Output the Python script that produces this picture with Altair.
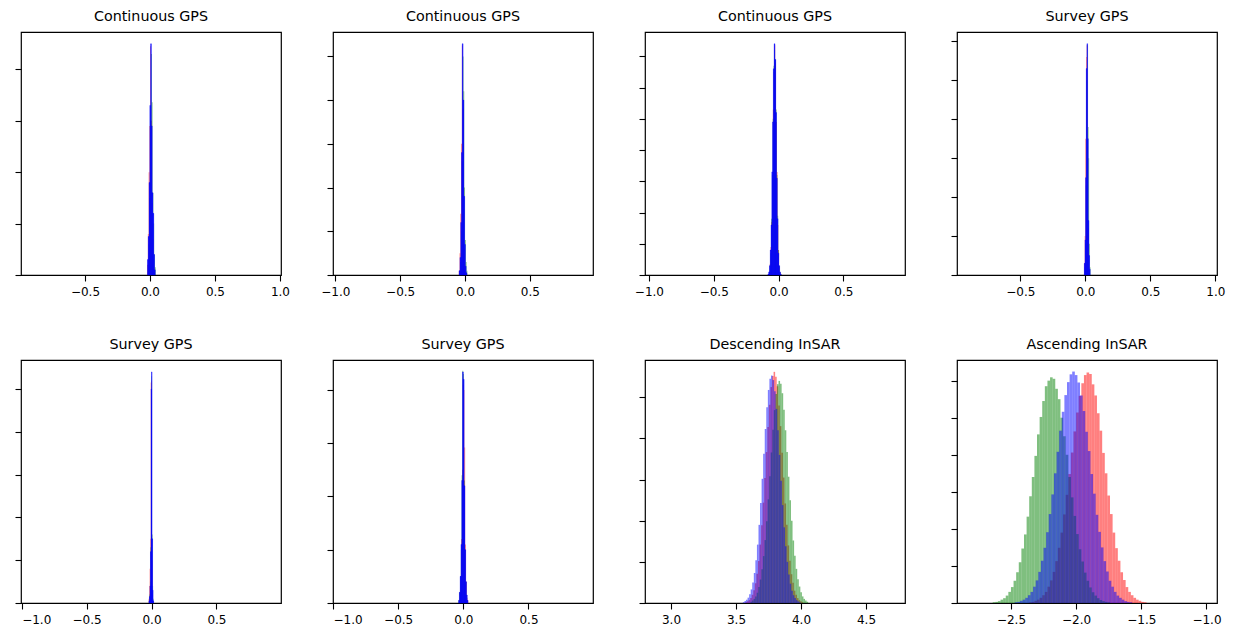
import altair as alt
import pandas as pd

# ---------------- panel descriptions ----------------
TITLES = ["Continuous GPS", "Continuous GPS", "Continuous GPS", "Survey GPS",
          "Survey GPS", "Survey GPS", "Descending InSAR", "Ascending InSAR"]

X_DOMAINS = [[-0.992, 1.008], [-1.018, 0.987], [-1.03, 0.975], [-0.987, 1.013],
             [-1.005, 0.997], [-1.0, 0.995], [2.8, 4.8], [-2.914, -0.919]]

X_TICKS = [[-0.5, 0.0, 0.5, 1.0], [-1.0, -0.5, 0.0, 0.5], [-1.0, -0.5, 0.0, 0.5],
           [-0.5, 0.0, 0.5, 1.0], [-1.0, -0.5, 0.0, 0.5], [-1.0, -0.5, 0.0, 0.5],
           [3.0, 3.5, 4.0, 4.5], [-2.5, -2.0, -1.5, -1.0]]

Y_TICK_COUNTS = [5, 6, 8, 7, 6, 5, 6, 7]
Y_MAX = [4.729, 5.558, 7.778, 6.24, 5.678, 4.563, 5.908, 6.557]

BIN_WIDTHS = [0.006, 0.006, 0.006, 0.005, 0.004, 0.006, 0.012, 0.02]

# ---------------- histogram values (left edge of first bin + bar heights) ----------------
# Panel 1 – Continuous GPS
P1_RED_START, P1_GREEN_START, P1_BLUE_START = -0.022, -0.016, -0.019
P1_RED = [0.2, 0.8, 2.0, 2.9, 4.45, 3.0, 1.4, 0.7, 0.3, 0.1]
P1_GREEN = [0.2, 0.6, 1.5, 3.0, 4.3, 3.36, 1.6, 1.0, 0.4, 0.15]
P1_BLUE = [0.3, 0.75, 1.8, 3.3, 4.5, 2.9, 1.6, 1.2, 0.4, 0.1]

# Panel 2 – Continuous GPS
P2_RED_START, P2_GREEN_START, P2_BLUE_START = -0.048, -0.042, -0.045
P2_RED = [0.1, 0.5, 1.4, 3.0, 5.25, 3.8, 1.5, 0.6, 0.2, 0.05]
P2_GREEN = [0.1, 0.3, 1.0, 2.6, 5.0, 4.2, 2.0, 0.8, 0.3, 0.1]
P2_BLUE = [0.1, 0.4, 1.2, 2.8, 5.29, 4.0, 1.8, 0.7, 0.2, 0.05]

# Panel 3 – Continuous GPS
P3_RED_START, P3_GREEN_START, P3_BLUE_START = -0.080, -0.081, -0.082
P3_RED = [0.03, 0.1, 0.35, 0.9, 1.7, 3.1, 5.3, 6.5, 7.35, 6.8, 4.9, 3.3, 1.6, 0.8, 0.25, 0.08, 0.02]
P3_GREEN = [0.02, 0.1, 0.3, 0.7, 1.8, 3.2, 5.0, 6.7, 7.2, 6.9, 5.3, 3.2, 1.9, 0.8, 0.3, 0.1, 0.03]
P3_BLUE = [0.03, 0.1, 0.3, 0.8, 1.6, 3.3, 4.9, 6.6, 7.40, 6.9, 5.2, 3.1, 1.8, 0.7, 0.3, 0.1, 0.03]

# Panel 4 – Survey GPS
P4_RED_START, P4_GREEN_START, P4_BLUE_START = -0.0095, -0.0055, -0.0075
P4_RED = [0.3, 1.0, 3.5, 5.6, 5.9, 3.3, 1.2, 0.4, 0.1]
P4_GREEN = [0.2, 0.8, 2.3, 5.0, 5.9, 3.8, 3.0, 0.8, 0.2]
P4_BLUE = [0.3, 0.9, 2.5, 5.3, 5.94, 3.5, 1.4, 0.5, 0.15]

# Panel 5 – Survey GPS
P5_RED_START, P5_GREEN_START, P5_BLUE_START = -0.022, -0.020, -0.020
P5_RED = [0.1, 0.4, 0.8, 1.5, 5.15, 5.2, 1.0, 0.2, 0.05]
P5_GREEN = [0.05, 0.2, 0.5, 1.3, 4.8, 5.3, 1.6, 0.4, 0.1]
P5_BLUE = [0.05, 0.15, 0.4, 1.2, 5.0, 5.40, 1.5, 0.3, 0.05]

# Panel 6 – Survey GPS
P6_RED_START, P6_GREEN_START, P6_BLUE_START = -0.034, -0.037, -0.036
P6_RED = [0.05, 0.2, 0.5, 1.2, 2.5, 4.1, 4.0, 2.92, 1.1, 0.4, 0.1, 0.05]
P6_GREEN = [0.05, 0.2, 0.5, 1.0, 2.4, 4.36, 4.3, 2.3, 1.0, 0.4, 0.15, 0.05]
P6_BLUE = [0.05, 0.2, 0.5, 1.1, 2.3, 4.34, 4.2, 2.2, 1.0, 0.4, 0.15, 0.05]

# Panel 7 – Descending InSAR
P7_RED_START, P7_GREEN_START, P7_BLUE_START = 3.573, 3.611, 3.553
P7_RED = [0.02, 0.04, 0.07, 0.12, 0.2, 0.31, 0.48, 0.71, 1.02, 1.42, 1.89, 2.44, 3.04, 3.67,
          4.28, 4.82, 5.25, 5.52, 5.62, 5.5, 5.27, 4.8, 4.3, 3.65, 3.05, 2.42, 1.9, 1.4,
          1.03, 0.7, 0.49, 0.3, 0.2, 0.12, 0.07, 0.04, 0.02]
P7_GREEN = [0.03, 0.06, 0.1, 0.16, 0.25, 0.39, 0.57, 0.82, 1.14, 1.53, 1.99, 2.52, 3.08, 3.66,
            4.21, 4.69, 5.08, 5.32, 5.40, 5.33, 5.1, 4.7, 4.2, 3.67, 3.07, 2.5, 2.0, 1.52,
            1.15, 0.83, 0.58, 0.4, 0.26, 0.16, 0.1, 0.06, 0.03]
P7_BLUE = [0.02, 0.05, 0.08, 0.13, 0.21, 0.33, 0.5, 0.73, 1.04, 1.42, 1.9, 2.43, 3.02, 3.63,
           4.23, 4.76, 5.18, 5.45, 5.53, 5.42, 5.15, 4.72, 4.2, 3.6, 2.97, 2.38, 1.84, 1.38,
           1.0, 0.69, 0.47, 0.3, 0.19, 0.12, 0.07, 0.04, 0.02]

# Panel 8 – Ascending InSAR
P8_RED_START, P8_GREEN_START, P8_BLUE_START = -2.36, -2.64, -2.47
P8_RED = [0.02, 0.03, 0.06, 0.09, 0.14, 0.21, 0.3, 0.44, 0.61, 0.84, 1.13, 1.49, 1.9, 2.39,
          2.92, 3.48, 4.06, 4.63, 5.14, 5.59, 5.93, 6.15, 6.22, 6.18, 5.9, 5.6, 5.12, 4.65,
          4.05, 3.5, 2.9, 2.4, 1.9, 1.48, 1.14, 0.83, 0.62, 0.43, 0.3, 0.21, 0.14, 0.09,
          0.06, 0.03, 0.02]
P8_GREEN = [0.02, 0.03, 0.05, 0.09, 0.13, 0.2, 0.3, 0.43, 0.6, 0.83, 1.1, 1.47, 1.85, 2.33,
            2.88, 3.4, 3.97, 4.55, 5.02, 5.45, 5.85, 6.0, 6.09, 6.05, 5.78, 5.5, 5.0, 4.5,
            4.0, 3.4, 2.85, 2.35, 1.86, 1.45, 1.12, 0.82, 0.6, 0.42, 0.29, 0.2, 0.13, 0.08,
            0.05, 0.03, 0.02]
P8_BLUE = [0.02, 0.03, 0.06, 0.09, 0.14, 0.21, 0.3, 0.44, 0.61, 0.84, 1.14, 1.49, 1.91, 2.4,
           2.93, 3.5, 4.08, 4.65, 5.16, 5.61, 5.96, 6.17, 6.245, 6.15, 5.95, 5.6, 5.18, 4.62,
           4.1, 3.48, 2.95, 2.38, 1.92, 1.5, 1.13, 0.85, 0.6, 0.44, 0.3, 0.2, 0.14, 0.09,
           0.05, 0.03, 0.02]

PANELS = [
    [(P1_RED_START, P1_RED), (P1_GREEN_START, P1_GREEN), (P1_BLUE_START, P1_BLUE)],
    [(P2_RED_START, P2_RED), (P2_GREEN_START, P2_GREEN), (P2_BLUE_START, P2_BLUE)],
    [(P3_RED_START, P3_RED), (P3_GREEN_START, P3_GREEN), (P3_BLUE_START, P3_BLUE)],
    [(P4_RED_START, P4_RED), (P4_GREEN_START, P4_GREEN), (P4_BLUE_START, P4_BLUE)],
    [(P5_RED_START, P5_RED), (P5_GREEN_START, P5_GREEN), (P5_BLUE_START, P5_BLUE)],
    [(P6_RED_START, P6_RED), (P6_GREEN_START, P6_GREEN), (P6_BLUE_START, P6_BLUE)],
    [(P7_RED_START, P7_RED), (P7_GREEN_START, P7_GREEN), (P7_BLUE_START, P7_BLUE)],
    [(P8_RED_START, P8_RED), (P8_GREEN_START, P8_GREEN), (P8_BLUE_START, P8_BLUE)],
]

SERIES_COLORS = ["#ff0000", "#008000", "#0000ff"]
INSAR_PANELS = {6, 7}


def panel_chart(idx):
    width = BIN_WIDTHS[idx]
    layers = []
    for s, (start, counts) in enumerate(PANELS[idx]):
        df = pd.DataFrame({
            "x0": [start + i * width for i in range(len(counts))],
            "x1": [start + (i + 1) * width for i in range(len(counts))],
            "y": counts,
        })
        if idx in INSAR_PANELS:
            mark = alt.MarkDef(type="bar", color=SERIES_COLORS[s], opacity=0.5)
        elif s == 2:
            mark = alt.MarkDef(type="bar", color=SERIES_COLORS[s], opacity=1.0,
                               stroke=SERIES_COLORS[s], strokeWidth=0.35)
        else:
            mark = alt.MarkDef(type="bar", color=SERIES_COLORS[s], opacity=0.5)
        layer = alt.Chart(df, mark=mark).encode(
            x=alt.X("x0:Q",
                    scale=alt.Scale(domain=X_DOMAINS[idx], nice=False, zero=False),
                    axis=alt.Axis(values=X_TICKS[idx], format=".1f", title=None)),
            x2="x1:Q",
            y=alt.Y("y:Q", stack=None,
                    scale=alt.Scale(domain=[0, Y_MAX[idx]], nice=False, zero=True),
                    axis=alt.Axis(values=list(range(Y_TICK_COUNTS[idx])), labels=False,
                                  title=None)),
            y2=alt.datum(0),
        )
        layers.append(layer)
    return alt.layer(*layers).properties(
        width=260, height=243,
        title=alt.TitleParams(TITLES[idx]),
    )


chart = alt.concat(
    *[panel_chart(i) for i in range(8)],
    columns=4, spacing={"row": 85, "column": 52}, bounds="flush",
).properties(
    padding={"left": 13, "top": 9, "right": 5, "bottom": 5},
    background="white",
).configure_view(
    stroke="#000000", strokeWidth=1.2,
).configure_axis(
    labelFont="DejaVu Sans", labelFontSize=12, labelColor="#000000",
    tickColor="#000000", tickWidth=1.1, tickSize=6, domain=False, grid=False,
    labelPadding=5,
).configure_title(
    font="DejaVu Sans", fontSize=14.3, fontWeight="normal", color="#000000",
    anchor="middle", baseline="alphabetic", offset=7.5,
)

chart.save("out.html", embed_options={"renderer": "svg", "actions": False})
